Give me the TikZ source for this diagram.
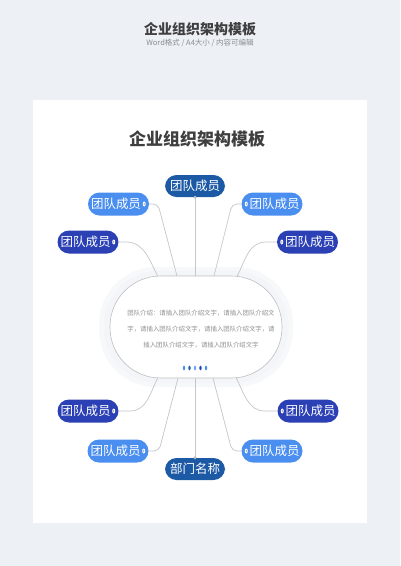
\documentclass[tikz,border=0pt]{standalone}
\usepackage{fontspec}
\setmainfont{Noto Sans CJK SC}
\usetikzlibrary{calc}
\definecolor{bgc}{HTML}{EDF0F5}
\definecolor{navy}{HTML}{1D5AA6}
\definecolor{lightb}{HTML}{4A8EF0}
\definecolor{darkb}{HTML}{2B40B5}
\definecolor{linec}{HTML}{C4C6CA}
\definecolor{titlec}{HTML}{3F3F3F}
\definecolor{subc}{HTML}{8A8D92}
\definecolor{bodyc}{HTML}{8E8E8E}
\definecolor{glowa}{HTML}{F7F8FA}
\definecolor{glowb}{HTML}{F3F5F8}
\tikzset{
  member/.style={rounded corners=11.5pt, minimum width=61pt, minimum height=23pt,
    inner sep=0pt, text=white, font=\fontsize{12.5}{13}\selectfont},
  lightm/.style={member, fill=lightb},
  darkm/.style={member, fill=darkb},
  navym/.style={member, fill=navy, minimum width=60pt, minimum height=22pt},
  conn/.style={draw=linec, line width=0.7pt},
  plug/.style={ellipse, fill=white, minimum width=3pt, minimum height=5pt, inner sep=0pt},
  plugc/.style={ellipse, fill=black!35, minimum width=1.2pt, minimum height=2.6pt, inner sep=0pt},
  dotb/.style={ellipse, minimum width=2.4pt, minimum height=4.6pt, inner sep=0pt},
}
\usetikzlibrary{shapes.geometric}
\begin{document}
\begin{tikzpicture}[x=1pt,y=1pt]
\useasboundingbox (0,0) rectangle (400,-566);
\fill[bgc] (0,0) rectangle (400,-566);
\fill[white] (33,-100) rectangle (367,-523);

\node[font=\fontsize{14}{16}\selectfont\bfseries, text=titlec] (h1) at (200,-29) {企业组织架构模板};
\node[font=\fontsize{7.5}{9}\selectfont, text=subc] (h2) at (200,-43) {Word格式 / A4大小 / 内容可编辑};
\node[font=\fontsize{17}{19}\selectfont\bfseries, text=titlec] (h3) at (197,-139) {企业组织架构模板};

% glow + central shape
\fill[glowa, rounded corners=57pt] (99,-267) rectangle (293,-387);
\fill[glowb, rounded corners=54pt] (104,-271) rectangle (288,-383);
\node[draw=black!25, line width=0.6pt, fill=white, rounded corners=50.5pt,
      minimum width=172pt, minimum height=102pt, inner sep=0pt] (c) at (196,-327) {};
\node[font=\fontsize{6.4}{16}\selectfont, text=bodyc, align=center, inner sep=0pt] (txt) at (201,-329)
  {团队介绍：请插入团队介绍文字，请插入团队介绍文\\字，请插入团队介绍文字，请插入团队介绍文字，请\\插入团队介绍文字，请插入团队介绍文字};
\node[dotb, fill=lightb] (d1) at (184,-368) {};
\node[dotb, fill=navy] (d2) at (189.5,-368) {};
\node[dotb, fill=lightb!80] (d3) at (195,-368) {};
\node[dotb, fill=darkb] (d4) at (200.5,-368) {};
\node[dotb, fill=lightb] (d5) at (206,-368) {};

% attach points on the central shape
\coordinate (ct1) at (158,-276.5);
\coordinate (ct2) at (177,-276);
\coordinate (ct4) at (214,-276);
\coordinate (ct5) at (237,-276.5);
\coordinate (cb1) at (158,-377.5);
\coordinate (cb2) at (178,-378);
\coordinate (cb4) at (213,-378);
\coordinate (cb5) at (236,-377.5);

% member nodes
\node[navym] (t) at (195,-186) {团队成员};
\node[lightm] (ul) at (118.5,-204) {团队成员\hspace*{5pt}};
\node[lightm] (ur) at (272,-204) {\hspace*{5pt}团队成员};
\node[darkm] (ml) at (88,-242) {团队成员\hspace*{5pt}};
\node[darkm] (mr) at (307.5,-242) {\hspace*{5pt}团队成员};
\node[darkm] (bl) at (88,-411) {团队成员\hspace*{5pt}};
\node[darkm] (br) at (308,-411) {\hspace*{5pt}团队成员};
\node[lightm] (ll) at (118,-451) {团队成员\hspace*{5pt}};
\node[lightm] (lr) at (272,-451) {\hspace*{5pt}团队成员};
\node[navym] (b) at (195,-469) {部门名称};

% connectors
\draw[conn] (t.south) -- (t.south |- c.north);
\draw[conn] (b.north) -- (b.north |- c.south);
\draw[conn, rounded corners=5pt] (ul.east) -- (158,-204) -- (ct2);
\draw[conn, rounded corners=5pt] (ur.west) -- (232,-204) -- (ct4);
\draw[conn] (ml.east) -- (126,-242) to[out=0,in=118] (ct1);
\draw[conn] (mr.west) -- (266,-242) to[out=180,in=62] (ct5);
\draw[conn] (bl.east) -- (130,-411) to[out=0,in=-118] (cb1);
\draw[conn] (br.west) -- (265,-411) to[out=180,in=-62] (cb5);
\draw[conn, rounded corners=5pt] (ll.east) -- (159,-451) -- (cb2);
\draw[conn, rounded corners=5pt] (lr.west) -- (232,-451) -- (cb4);

% plugs
\node[plug] (pul) at ($(ul.east)+(-5,0)$) {};
\node[plugc] at (pul) {};
\node[plug] (pur) at ($(ur.west)+(5,0)$) {};
\node[plugc] at (pur) {};
\node[plug] (pml) at ($(ml.east)+(-5,0)$) {};
\node[plugc] at (pml) {};
\node[plug] (pmr) at ($(mr.west)+(5,0)$) {};
\node[plugc] at (pmr) {};
\node[plug] (pbl) at ($(bl.east)+(-5,0)$) {};
\node[plugc] at (pbl) {};
\node[plug] (pbr) at ($(br.west)+(5,0)$) {};
\node[plugc] at (pbr) {};
\node[plug] (pll) at ($(ll.east)+(-5,0)$) {};
\node[plugc] at (pll) {};
\node[plug] (plr) at ($(lr.west)+(5,0)$) {};
\node[plugc] at (plr) {};
\fill[black!25] (t.south) circle (1.6pt);
\fill[black!25] (b.north) circle (1.6pt);
\end{tikzpicture}
\end{document}
